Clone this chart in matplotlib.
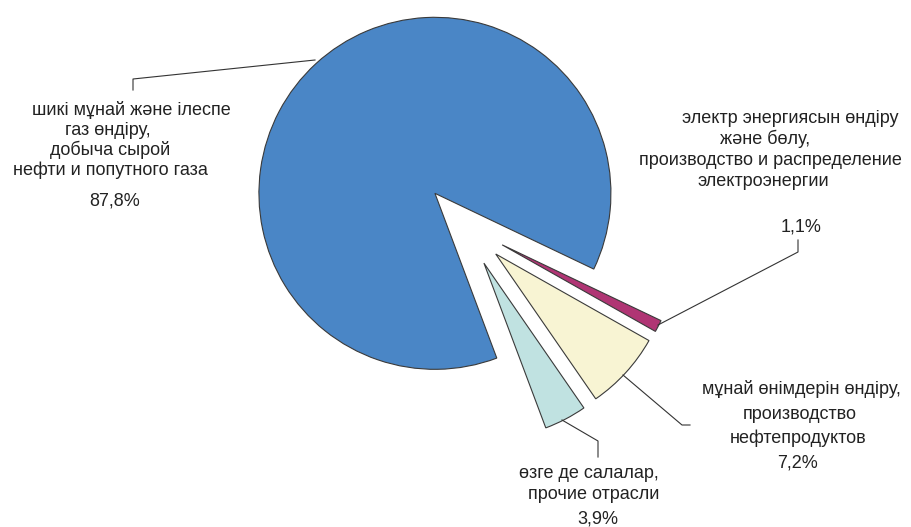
import matplotlib
matplotlib.use("Agg")
import matplotlib.pyplot as plt

plt.rcParams['font.family'] = ['Liberation Sans', 'DejaVu Sans']

# slices, counter-clockwise from the start angle
values = [87.8, 3.9, 7.2, 1.1]
colors = ['#4A86C6', '#C0E2E1', '#F8F4D3', '#B03574']
label_lines = [
    ['шикі мұнай және ілеспе', 'газ өндіру,', 'добыча сырой', 'нефти и попутного газа'],
    ['өзге де салалар,', 'прочие отрасли'],
    ['мұнай өнімдерін өндіру,', 'производство', 'нефтепродуктов'],
    ['электр энергиясын өндіру', 'және бөлу,', 'производство и распределение', 'электроэнергии'],
]

W, H = 911, 527


def Y(y):
    # picture rows (from top) -> data y
    return H - y


fig = plt.figure(figsize=(W / 100, H / 100), dpi=100)
ax = fig.add_axes([0, 0, 1, 1])

# explode is in data units here (pixels)
ax.pie(values, colors=colors, startangle=-25.5, counterclock=True,
       center=(464, Y(225)), radius=176, explode=[43] * 4,
       wedgeprops=dict(edgecolor='#3a3a3a', linewidth=0.8), frame=True)
ax.set_xlim(0, W)
ax.set_ylim(0, H)
ax.axis('off')

fs = 13
# text placement per label: line centres x, baselines y
text_pos = [
    [(131, 115), (108, 135), (110, 155), (110, 175)],
    [(589, 478), (594, 499)],
    [(801, 394), (800, 419), (798, 443)],
    [(790, 123), (765, 144), (770, 165), (763, 186)],
]
pct_pos = [(115, 206), (598, 524), (798, 467), (801, 231)]

for lines, pos, v, pp in zip(label_lines, text_pos, values, pct_pos):
    for t, (x, y) in zip(lines, pos):
        ax.text(x, Y(y), t, fontsize=fs, ha='center', va='baseline', color='#222222')
    ax.text(pp[0], Y(pp[1]), f"{v:.1f}%".replace('.', ','), fontsize=fs,
            ha='center', va='baseline', color='#222222')

# leader lines
leaders = [
    [(315, 60), (133, 79), (133, 90)],
    [(562, 420), (598, 441), (598, 457)],
    [(623, 375), (682, 425), (690, 425)],
    [(658, 325), (798, 252), (798, 240)],
]
for pts in leaders:
    ax.plot([p[0] for p in pts], [Y(p[1]) for p in pts], color='#333333', lw=0.8)

fig.savefig('out.png', dpi=100)
